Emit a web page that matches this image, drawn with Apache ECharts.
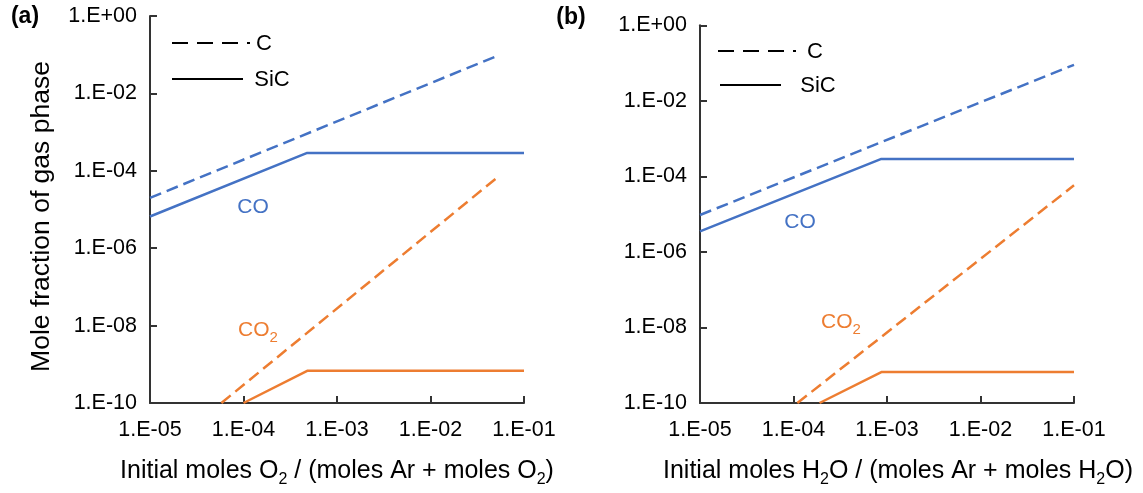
<!DOCTYPE html>
<html>
<head>
<meta charset="utf-8">
<script src="https://cdn.jsdelivr.net/npm/echarts@6/dist/echarts.min.js"></script>
<style>
  html, body { margin: 0; padding: 0; background: #fff; }
  #chart { width: 1143px; height: 493px; }
</style>
</head>
<body>
<div id="chart"></div>
<script>
// 数据 (a) O2
var coC_a = [[1e-5, 2e-5], [5e-2, 9e-2]];
var coSiC_a = [[1e-5, 6.6e-6], [4.8e-4, 2.9e-4], [1e-1, 2.9e-4]];
var co2C_a = [[5.8e-5, 1e-10], [5e-2, 6.3e-5]];
var co2SiC_a = [[1e-4, 1e-10], [4.8e-4, 6.8e-10], [1e-1, 6.8e-10]];
// 数据 (b) H2O
var coC_b = [[1e-5, 9.5e-6], [1e-1, 9e-2]];
var coSiC_b = [[1e-5, 3.5e-6], [8.7e-4, 2.9e-4], [1e-1, 2.9e-4]];
var co2C_b = [[1.1e-4, 1e-10], [1e-1, 5.8e-5]];
var co2SiC_b = [[1.9e-4, 1e-10], [8.7e-4, 6.6e-10], [1e-1, 6.6e-10]];

// 刻度标签
var xTickLabels = ['1.E-05', '1.E-04', '1.E-03', '1.E-02', '1.E-01'];
var yTickLabels = ['1.E-10', '1.E-09', '1.E-08', '1.E-07', '1.E-06', '1.E-05', '1.E-04', '1.E-03', '1.E-02', '1.E-01', '1.E+00'];

var BLUE = '#4472C4';
var ORANGE = '#ED7D31';
var FONT = 'Liberation Sans';

var myChart = echarts.init(document.getElementById('chart'));

function xLabel(v) {
  return xTickLabels[Math.round(Math.log10(v)) + 5];
}
function yLabel(v) {
  return yTickLabels[Math.round(Math.log10(v)) + 10];
}

var subRich = {
  sub: { fontSize: 16, fontFamily: FONT, color: '#000', padding: [18, 0, 0, 0] }
};

function makeX(idx, name, pad) {
  return {
    gridIndex: idx,
    type: 'log',
    logBase: 10,
    min: 1e-5,
    max: 1e-1,
    interval: 1,
    axisLine: { lineStyle: { color: '#333', width: 2 } },
    axisTick: { inside: true, length: 7, lineStyle: { color: '#333', width: 2 } },
    minorTick: { show: false },
    splitLine: { show: false },
    axisLabel: { formatter: xLabel, color: '#000', fontSize: 21.5, fontFamily: FONT, margin: 16 },
    name: name,
    nameLocation: 'middle',
    nameGap: 51,
    nameTextStyle: { color: '#000', fontSize: 25, fontFamily: FONT, rich: subRich, padding: pad }
  };
}

function makeY(idx, name) {
  return {
    gridIndex: idx,
    type: 'log',
    logBase: 10,
    min: 1e-10,
    max: 1,
    interval: 2,
    axisLine: { show: true, lineStyle: { color: '#333', width: 2 } },
    axisTick: { show: true, inside: true, length: 7, lineStyle: { color: '#333', width: 2 } },
    minorTick: { show: false },
    splitLine: { show: false },
    axisLabel: { formatter: yLabel, color: '#000', fontSize: 21.5, fontFamily: FONT, margin: 13 },
    name: name,
    nameLocation: 'middle',
    nameRotate: 90,
    nameGap: 95,
    nameTextStyle: { color: '#000', fontSize: 26.5, fontFamily: FONT, padding: [0, 14, 0, 0] }
  };
}

function line(idx, data, color, dashed) {
  return {
    type: 'line',
    xAxisIndex: idx,
    yAxisIndex: idx,
    data: data,
    showSymbol: false,
    symbol: 'none',
    clip: true,
    silent: true,
    lineStyle: { color: color, width: 2.5, type: dashed ? [12, 6] : 'solid' }
  };
}

function txt(x, y, text, color, size, weight) {
  return {
    type: 'text',
    x: x,
    y: y,
    style: {
      text: text,
      fill: color,
      font: (weight || 'normal') + ' ' + size + 'px "' + FONT + '"',
      align: 'center',
      verticalAlign: 'middle',
      rich: {
        m: { fontSize: size, fontFamily: FONT, fill: color },
        s: { fontSize: 15, fontFamily: FONT, fill: color, padding: [16, 0, 0, 0] }
      }
    }
  };
}

function legendLine(x1, x2, y, dash) {
  return {
    type: 'line',
    shape: { x1: x1, y1: y, x2: x2, y2: y },
    style: { stroke: '#000', lineWidth: 2, lineDash: dash }
  };
}

var option = {
  backgroundColor: '#fff',
  animation: false,
  grid: [
    { left: 150, top: 16, width: 374, height: 390.5 },
    { left: 700, top: 25.3, width: 374, height: 381 }
  ],
  xAxis: [
    makeX(0, 'Initial moles O{sub|2} / (moles Ar + moles O{sub|2})', [0, 0, 0, 0]),
    makeX(1, 'Initial moles H{sub|2}O / (moles Ar + moles H{sub|2}O)', [0, 0, 0, 22])
  ],
  yAxis: [
    makeY(0, 'Mole fraction of gas phase'),
    makeY(1, '')
  ],
  series: [
    line(0, coC_a, BLUE, true),
    line(0, coSiC_a, BLUE, false),
    line(0, co2C_a, ORANGE, true),
    line(0, co2SiC_a, ORANGE, false),
    line(1, coC_b, BLUE, true),
    line(1, coSiC_b, BLUE, false),
    line(1, co2C_b, ORANGE, true),
    line(1, co2SiC_b, ORANGE, false)
  ],
  graphic: [
    txt(25, 17, '(a)', '#000', 23, 'bold'),
    txt(571, 18, '(b)', '#000', 23, 'bold'),
    // 图例 (a)
    legendLine(172, 250, 43, [16, 9]),
    txt(264, 44, 'C', '#000', 22),
    legendLine(172, 243, 79, null),
    txt(272, 80, 'SiC', '#000', 22),
    // 图例 (b)
    legendLine(718, 796, 51, [16, 9]),
    txt(815, 52, 'C', '#000', 22),
    legendLine(720, 781, 85, null),
    txt(818, 86, 'SiC', '#000', 22),
    // 标注
    txt(253, 207, '{m|CO}', BLUE, 21),
    txt(258, 330, '{m|CO}{s|2}', ORANGE, 21),
    txt(800, 222, '{m|CO}', BLUE, 21),
    txt(841, 322, '{m|CO}{s|2}', ORANGE, 21)
  ]
};

myChart.setOption(option);
</script>
</body>
</html>
